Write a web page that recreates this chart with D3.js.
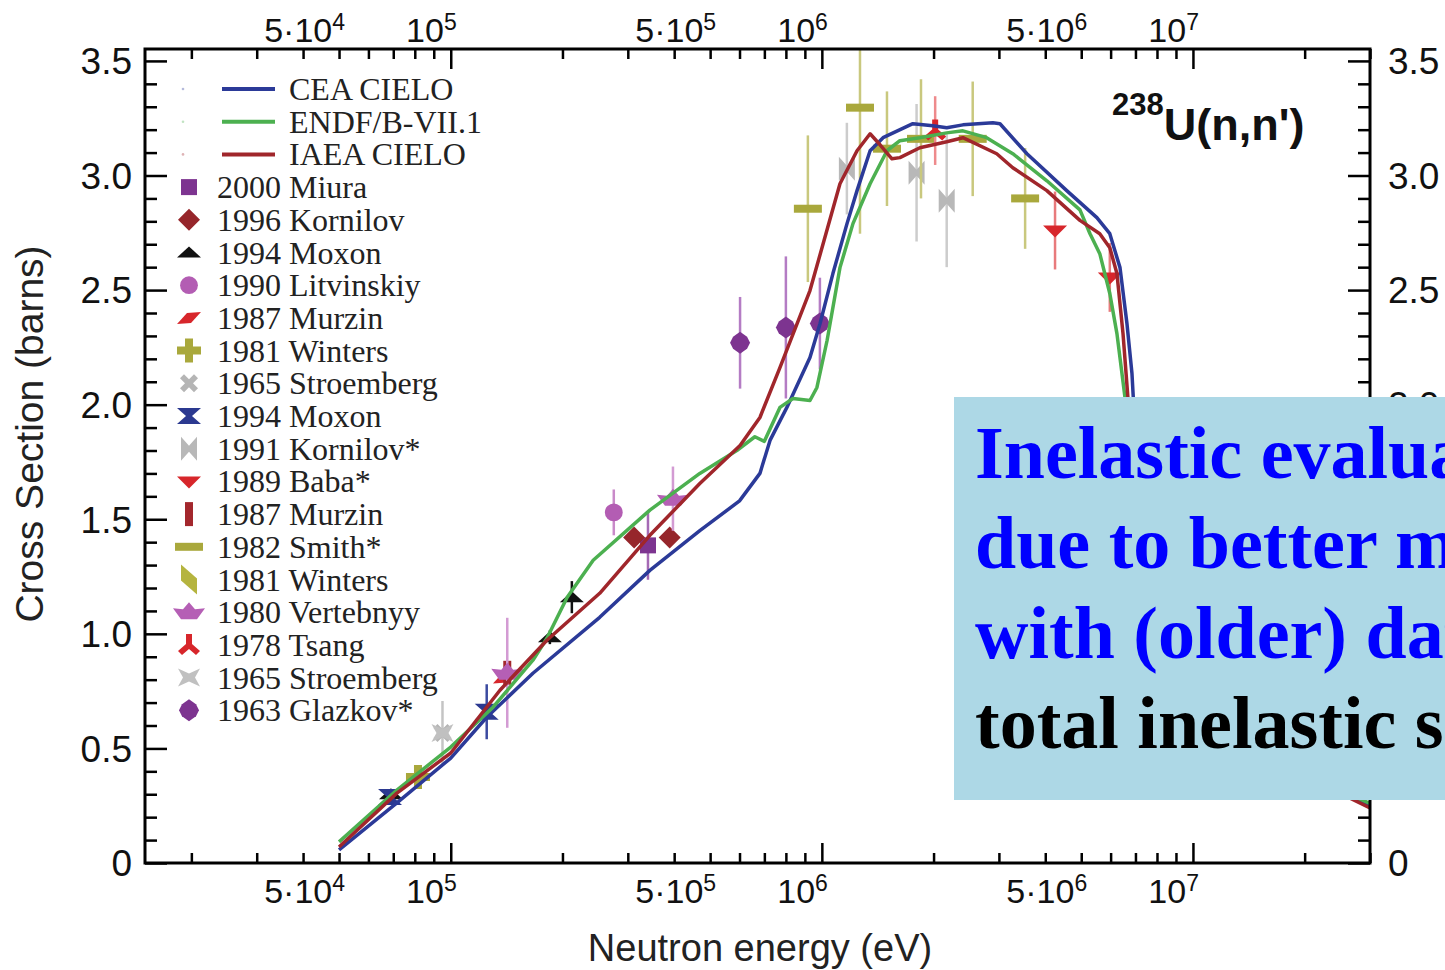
<!DOCTYPE html>
<html>
<head>
<meta charset="utf-8">
<script src="https://cdn.jsdelivr.net/npm/d3@7"></script>
<style>
body { margin: 0; background: #fff; }
svg { display: block; }
</style>
</head>
<body>
<div id="chart"></div>
<script>
var width = 1445;
var height = 970;

// evaluated curves: [energy (eV), cross section (b)]
var ceaCielo = [[5e4,0.057],[7.16e4,0.262],[1e5,0.458],[1.25e5,0.636],[1.665e5,0.828],[2.52e5,1.072],[3.44e5,1.277],
    [4.69e5,1.45],[6.0e5,1.58],[6.81e5,1.70],[7.25e5,1.844],[8.05e5,1.988],[9.29e5,2.206],[9.89e5,2.354],[1.071e6,2.572],
    [1.169e6,2.79],[1.244e6,2.934],[1.349e6,3.108],[1.462e6,3.165],[1.759e6,3.226],[1.992e6,3.217],[2.17e6,3.208],
    [2.40e6,3.221],[2.89e6,3.230],[3.02e6,3.226],[3.57e6,3.095],[4.57e6,2.934],[5.51e6,2.816],[5.97e6,2.746],
    [6.36e6,2.598],[6.64e6,2.354],[6.85e6,2.136],[6.95e6,1.95],[7.3e6,1.5],[8e6,1.0],[1e7,0.75],[1.5e7,0.5],[2e7,0.38],[3e7,0.25]];
var endf71 = [[5e4,0.092],[7.16e4,0.318],[1e5,0.506],[1.30e5,0.680],[1.665e5,0.885],[1.816e5,0.981],[2.06e5,1.160],
    [2.42e5,1.321],[3.44e5,1.54],[4.69e5,1.70],[5.9e5,1.80],[6.6e5,1.86],[7.0e5,1.84],[7.71e5,1.988],[8.36e5,2.027],
    [9.29e5,2.018],[9.70e5,2.075],[1.033e6,2.280],[1.119e6,2.598],[1.213e6,2.790],[1.349e6,2.964],[1.498e6,3.108],
    [1.623e6,3.152],[1.837e6,3.165],[2.17e6,3.186],[2.40e6,3.195],[2.78e6,3.165],[3.27e6,3.095],[4.04e6,2.977],
    [4.96e6,2.85],[5.28e6,2.746],[5.61e6,2.659],[5.97e6,2.485],[6.24e6,2.31],[6.56e6,2.031],[7e6,1.5],[8e6,1.0],
    [1e7,0.75],[1.5e7,0.5],[2e7,0.38],[3e7,0.26]];
var iaeaCielo = [[5e4,0.070],[7.16e4,0.305],[1e5,0.480],[1.357e5,0.754],[1.816e5,0.972],[2.52e5,1.177],[3.44e5,1.43],
    [4.69e5,1.656],[6.02e5,1.822],[6.81e5,1.944],[7.71e5,2.162],[9.29e5,2.498],[1.119e6,2.964],[1.244e6,3.108],
    [1.349e6,3.182],[1.435e6,3.134],[1.545e6,3.073],[1.623e6,3.078],[1.837e6,3.121],[2.17e6,3.147],[2.40e6,3.165],
    [2.96e6,3.095],[3.27e6,3.034],[4.04e6,2.934],[4.96e6,2.804],[5.61e6,2.746],[5.97e6,2.685],[6.24e6,2.572],
    [6.48e6,2.310],[6.68e6,2.031],[7.1e6,1.5],[8e6,1.0],[1e7,0.75],[1.5e7,0.5],[2e7,0.38],[3e7,0.24]];

// measurements: [energy (eV), cross section (b), error (b)]
var miura2000 = [[3.40e5,1.386,0.15]];
var kornilov1996 = [[3.12e5,1.42,0.04],[3.89e5,1.42,0.04]];
var moxon1994a = [[6.9e4,0.30,0.02],[1.85e5,0.985,0.03],[2.12e5,1.16,0.07]];
var litvinskiy1990 = [[2.75e5,1.53,0.1]];
var murzin1987a = [[1.40e5,0.81,0]];
var winters1981a = [[8.16e4,0.375,0.03]];
var stroemberg1965a = [[9.5e4,0.567,0.14]];
var moxon1994b = [[6.86e4,0.288,0.02],[1.25e5,0.66,0.12]];
var kornilov1991 = [[1.168e6,3.03,0.2],[1.80e6,3.012,0.3],[2.17e6,2.89,0.29]];
var baba1989 = [[4.25e6,2.76,0.17],[5.97e6,2.555,0.15]];
var murzin1987b = [[1.42e5,0.83,0]];
var smith1982 = [[9.17e5,2.855,0.32],[1.267e6,3.296,0.55],[1.498e6,3.117,0.25],[1.85e6,3.16,0.26],[2.55e6,3.16,0.25],[3.53e6,2.90,0.22]];
var winters1981b = [];
var vertebnyy1980 = [[3.97e5,1.59,0.14],[1.42e5,0.83,0.24]];
var tsang1978 = [[2.02e6,3.196,0.15]];
var stroemberg1965b = [[9.5e4,0.567,0]];
var glazkov1963 = [[6.02e5,2.27,0.2],[8.0e5,2.337,0.31],[9.88e5,2.354,0.2]];

var curveNames = ["CEA CIELO", "ENDF/B-VII.1", "IAEA CIELO"];
var curveColors = ["#2b3a98", "#4cb050", "#a0262b"];
var xLabelValues = [5e4, 1e5, 5e5, 1e6, 5e6, 1e7];
var xLabelBase = ["5\u00b710", "10", "5\u00b710", "10", "5\u00b710", "10"];
var xLabelExp = ["4", "5", "5", "6", "6", "7"];
var rightLabelValues = [0, 2.0, 2.5, 3.0, 3.5]; // the rest sit under the note box

var shapes = {
    square: "M-8,-8H8V8H-8Z",
    diamond: "M0,-11L11,0L0,11L-11,0Z",
    triUp: "M-12,5L0,-6L12,5Z",
    circle: d3.symbol(d3.symbolCircle, 250)(),
    para: "M-12,6L-2,-5L12,-6L2,5Z",
    plus: "M-4,-12H4V-4H12V4H4V12H-4V4H-12V-4H-4Z",
    xcross: "M-9,-5L-5,-9L0,-4L5,-9L9,-5L4,0L9,5L5,9L0,4L-5,9L-9,5L-4,0Z",
    hourglass: "M-12,-8H12L3,0L12,8H-12L-3,0Z",
    bowtie: "M-8,-12L0,-3L8,-12V12L0,3L-8,12Z",
    triDown: "M-12,-5H12L0,7Z",
    vbar: "M-4,-12H4V12H-4Z",
    hbar: "M-14,-4H14V4H-14Z",
    slant: "M-8,-15L8,-1L8,15L-8,1Z",
    boat: "M-16,-4L-6,-3L0,-10L6,-3L16,-4L8,7H-8Z",
    tripod: "M-3,-11H3V-1L11,6L7,10L0,4L-7,10L-11,6L-3,-1Z",
    star4: "M-11,-9L0,-4L11,-9L6,0L11,9L0,4L-11,9L-6,0Z",
    octa: "M0,-11L7,-6L10,0L7,6L0,11L-7,6L-10,0L-7,-6Z"
};

var experiments = [
    {name: "2000 Miura", shape: "square", color: "#7d3490", err: "#a56ab5", data: miura2000},
    {name: "1996 Kornilov", shape: "diamond", color: "#96262b", err: "#b55a5e", data: kornilov1996},
    {name: "1994 Moxon", shape: "triUp", color: "#111111", err: "#111111", data: moxon1994a},
    {name: "1990 Litvinskiy", shape: "circle", color: "#b35db3", err: "#c98ac9", data: litvinskiy1990},
    {name: "1987 Murzin", shape: "para", color: "#d7262b", err: "#e06a6d", data: murzin1987a},
    {name: "1981 Winters", shape: "plus", color: "#a9a83c", err: "#c4c37a", data: winters1981a},
    {name: "1965 Stroemberg", shape: "xcross", color: "#b5b5b5", err: "#c4c4c4", data: stroemberg1965a},
    {name: "1994 Moxon", shape: "hourglass", color: "#2b3990", err: "#3b4aa0", data: moxon1994b},
    {name: "1991 Kornilov*", shape: "bowtie", color: "#b8b8b8", err: "#cccccc", data: kornilov1991},
    {name: "1989 Baba*", shape: "triDown", color: "#d7262b", err: "#e87a7c", data: baba1989},
    {name: "1987 Murzin", shape: "vbar", color: "#a3272d", err: "#a3272d", data: murzin1987b},
    {name: "1982 Smith*", shape: "hbar", color: "#a9a83c", err: "#c9c87e", data: smith1982},
    {name: "1981 Winters", shape: "slant", color: "#b5b43f", err: "#c9c87e", data: winters1981b},
    {name: "1980 Vertebnyy", shape: "boat", color: "#b55fb5", err: "#d39bd3", data: vertebnyy1980},
    {name: "1978 Tsang", shape: "tripod", color: "#d7262b", err: "#ee8a8c", data: tsang1978},
    {name: "1965 Stroemberg", shape: "star4", color: "#c0c0c0", err: "#c8c8c8", data: stroemberg1965b},
    {name: "1963 Glazkov*", shape: "octa", color: "#7d3490", err: "#b47cc4", data: glazkov1963}
];

var svg = d3.select("#chart").append("svg").attr("width", width).attr("height", height);

// plot frame ("top" is taken on window, so own names)
var frameL = 145, frameR = 1370, frameT = 49, frameB = 863;
var x = d3.scaleLog().domain([1.5e4, 3e7]).range([frameL, frameR]);
var y = d3.scaleLinear().domain([0, 3.552]).range([frameB, frameT]);

svg.append("clipPath").attr("id", "plotclip")
    .append("rect").attr("x", frameL).attr("y", frameT).attr("width", frameR - frameL).attr("height", frameB - frameT);

var plot = svg.append("g").attr("clip-path", "url(#plotclip)");

// experimental points
experiments.forEach(function(ex) {
    ex.data.forEach(function(p) {
        if (p[2] > 0) {
            plot.append("line")
                .attr("x1", x(p[0])).attr("x2", x(p[0]))
                .attr("y1", y(p[1] + p[2])).attr("y2", y(p[1] - p[2]))
                .attr("stroke", ex.err).attr("stroke-width", 2.5);
        }
        plot.append("path")
            .attr("d", shapes[ex.shape])
            .attr("transform", "translate(" + x(p[0]) + "," + y(p[1]) + ")")
            .attr("fill", ex.color);
    });
});

// evaluated curves
var line = d3.line().x(function(d) { return x(d[0]); }).y(function(d) { return y(d[1]); });
[ceaCielo, endf71, iaeaCielo].forEach(function(c, i) {
    plot.append("path")
        .attr("d", line(c))
        .attr("fill", "none")
        .attr("stroke", curveColors[i])
        .attr("stroke-width", 3.5)
        .attr("stroke-linejoin", "round");
});

// ticks
var majorX = [1e5, 1e6, 1e7];
var minorX = x.ticks().filter(function(v) { return majorX.indexOf(v) < 0; });
var minorY = y.ticks(35).filter(function(v) { return Math.abs(v * 2 - Math.round(v * 2)) > 1e-6; });
var majorY = y.ticks(7);

function tickGroup(axis, tx, ty) {
    var g = svg.append("g").attr("transform", "translate(" + tx + "," + ty + ")").call(axis);
    g.select(".domain").remove();
    g.selectAll(".tick line").attr("stroke", "#000").attr("stroke-width", 2.5);
    g.selectAll(".tick text").remove();
}
tickGroup(d3.axisBottom(x).tickValues(minorX).tickSize(-10), 0, frameB);
tickGroup(d3.axisBottom(x).tickValues(majorX).tickSize(-20), 0, frameB);
tickGroup(d3.axisTop(x).tickValues(minorX).tickSize(-10), 0, frameT);
tickGroup(d3.axisTop(x).tickValues(majorX).tickSize(-20), 0, frameT);
tickGroup(d3.axisLeft(y).tickValues(minorY).tickSize(-12), frameL, 0);
tickGroup(d3.axisLeft(y).tickValues(majorY).tickSize(-22), frameL, 0);
tickGroup(d3.axisRight(y).tickValues(minorY).tickSize(-12), frameR, 0);
tickGroup(d3.axisRight(y).tickValues(majorY).tickSize(-22), frameR, 0);

svg.append("rect")
    .attr("x", frameL).attr("y", frameT).attr("width", frameR - frameL).attr("height", frameB - frameT)
    .attr("fill", "none").attr("stroke", "#000").attr("stroke-width", 3);

// y tick labels
function yLabel(v) { return v === 0 ? "0" : v.toFixed(1); }
majorY.forEach(function(v) {
    svg.append("text").attr("x", 132).attr("y", y(v)).attr("dy", "0.36em")
        .attr("text-anchor", "end").attr("font-family", "Liberation Sans, Arial, sans-serif")
        .attr("font-size", 37).attr("fill", "#111").text(yLabel(v));
});
rightLabelValues.forEach(function(v) {
    svg.append("text").attr("x", 1388).attr("y", y(v)).attr("dy", "0.36em")
        .attr("text-anchor", "start").attr("font-family", "Liberation Sans, Arial, sans-serif")
        .attr("font-size", 37).attr("fill", "#111").text(yLabel(v));
});

// x tick labels, top and bottom
[903, 42].forEach(function(base) {
    xLabelValues.forEach(function(v, i) {
        var t = svg.append("text").attr("x", x(v) + 6).attr("y", base)
            .attr("text-anchor", "end").attr("font-family", "Liberation Sans, Arial, sans-serif")
            .attr("font-size", 34).attr("fill", "#111");
        t.append("tspan").text(xLabelBase[i]);
        t.append("tspan").attr("dy", -12).attr("font-size", 23).text(xLabelExp[i]);
    });
});

// axis titles
svg.append("text").attr("x", 760).attr("y", 961).attr("text-anchor", "middle")
    .attr("font-family", "Liberation Sans, Arial, sans-serif").attr("font-size", 38).attr("fill", "#222")
    .text("Neutron energy (eV)");
svg.append("text").attr("transform", "translate(43,434) rotate(-90)").attr("text-anchor", "middle")
    .attr("font-family", "Liberation Sans, Arial, sans-serif").attr("font-size", 39).attr("fill", "#222")
    .text("Cross Section (barns)");

// reaction label
var title = svg.append("text").attr("x", 1112).attr("y", 115)
    .attr("font-family", "Liberation Sans, Arial, sans-serif").attr("font-weight", "bold").attr("fill", "#111");
title.append("tspan").attr("font-size", 31).text("238");
title.append("tspan").attr("font-size", 45).attr("dy", 25).text("U(n,n')");

// legend
var legend = svg.append("g").attr("font-family", "Liberation Serif, Times New Roman, serif")
    .attr("font-size", 32).attr("fill", "#222");
var rowH = 32.7, row0 = 89;
curveNames.forEach(function(n, i) {
    var cy = row0 + i * rowH;
    legend.append("circle").attr("cx", 183).attr("cy", cy).attr("r", 1.3).attr("fill", curveColors[i]).attr("opacity", 0.35);
    legend.append("line").attr("x1", 222).attr("x2", 275).attr("y1", cy).attr("y2", cy)
        .attr("stroke", curveColors[i]).attr("stroke-width", 4);
    legend.append("text").attr("x", 289).attr("y", cy + 11).text(n);
});
experiments.forEach(function(ex, j) {
    var cy = row0 + (j + 3) * rowH;
    legend.append("path").attr("d", shapes[ex.shape])
        .attr("transform", "translate(189," + cy + ")").attr("fill", ex.color);
    legend.append("text").attr("x", 217).attr("y", cy + 11).text(ex.name);
});

// overlay note, runs off the right edge as in the slide
var note = svg.append("g");
note.append("rect").attr("x", 954).attr("y", 397).attr("width", 500).attr("height", 403).attr("fill", "#add8e6");
var noteLines = ["Inelastic evaluations", "due to better match", "with (older) data", "total inelastic scattering"];
var noteColors = ["#0000ff", "#0000ff", "#0000ff", "#000000"];
noteLines.forEach(function(s, i) {
    note.append("text").attr("x", 975).attr("y", 478 + i * 90)
        .attr("font-family", "Liberation Serif, Times New Roman, serif").attr("font-weight", "bold")
        .attr("font-size", 74).attr("fill", noteColors[i]).text(s);
});
</script>
</body>
</html>
